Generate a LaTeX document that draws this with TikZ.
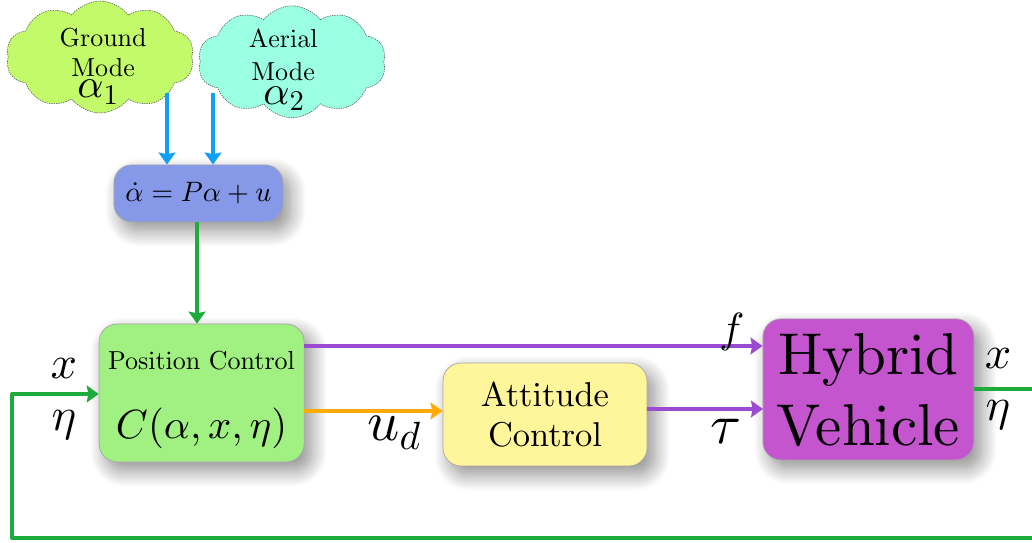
\RequirePackage{fix-cm}
\documentclass[tikz,border=0pt]{standalone}
\usepackage{amsmath,amssymb}
\usepackage[OT1]{fontenc}
\usepackage{xcolor}
\usetikzlibrary{arrows.meta,shapes.symbols,shadows.blur}
\renewcommand{\rmdefault}{cmr}
\DeclareFontShape{OT1}{cmr}{m}{n}{<->cmr10}{}
\DeclareFontShape{OML}{cmm}{m}{it}{<->cmmi10}{}
\definecolor{softrate}{RGB}{133,153,232}
\definecolor{softpos}{RGB}{160,240,130}
\definecolor{softatt}{RGB}{255,245,155}
\definecolor{softhyb}{RGB}{197,85,207}
\definecolor{softground}{RGB}{195,250,105}
\definecolor{softaerial}{RGB}{155,255,225}
\definecolor{linkblue}{RGB}{16,160,245}
\definecolor{linkgreen}{RGB}{30,170,60}
\definecolor{linkpurple}{RGB}{155,75,210}
\definecolor{linkorange}{RGB}{255,170,0}
\tikzset{
    blockbox/.style={draw=black!35, line width=0.5pt, rounded corners=0.45cm, align=center, inner sep=0pt,
        blur shadow={shadow xshift=0.18cm, shadow yshift=-0.22cm, shadow blur radius=0.4cm, shadow blur steps=16, shadow opacity=45}},
    modecloud/.style={cloud, cloud puffs=10, cloud puff arc=105, aspect=1.7, draw=black!65, dash pattern=on 1pt off 0.7pt, line width=0.4pt, inner sep=0pt},
    link/.style={-{Stealth[length=0.3cm,width=0.42cm,inset=0.04cm]}, line width=2.4pt, line join=round},
    plainlink/.style={line width=2.4pt, line join=round}
}
\begin{document}
\begin{tikzpicture}
    \useasboundingbox (0,0) rectangle (25.8,13.575);

    % Mode clouds
    \node[modecloud, fill=softground, minimum width=4.7cm, minimum height=2.8cm] (ground) at (2.5,12.15) {};
    \node[modecloud, fill=softaerial, minimum width=4.7cm, minimum height=2.8cm] (aerial) at (7.3,12.03) {};
    \node[font=\fontsize{18.5}{22}\selectfont] (groundtext) at (2.58,12.65) {Ground};
    \node[font=\fontsize{18.5}{22}\selectfont] (groundmode) at (2.58,11.9) {Mode};
    \node[font=\fontsize{29}{32}\selectfont] (groundalpha) at (2.45,11.27) {$\alpha_1$};
    \node[font=\fontsize{18.5}{22}\selectfont] (aerialtext) at (7.08,12.62) {Aerial};
    \node[font=\fontsize{18.5}{22}\selectfont] (aerialmode) at (7.08,11.8) {Mode};
    \node[font=\fontsize{29}{32}\selectfont] (aerialalpha) at (7.1,11.1) {$\alpha_2$};

    % Blocks
    \node[blockbox, fill=softrate, minimum width=4.225cm, minimum height=1.425cm, font=\fontsize{20}{24}\selectfont] (rate) at (4.96,8.74)
        {$\dot{\alpha} = P\alpha + u$};
    \node[blockbox, fill=softpos, minimum width=5.125cm, minimum height=3.45cm, font=\fontsize{18.5}{21}\selectfont] (pos) at (5.04,3.75)
        {\rule{0pt}{0.8cm}Position Control\\[0.92cm]\fontsize{29}{34}\selectfont $C(\alpha,x,\eta)$};
    \node[blockbox, fill=softatt, minimum width=5.1cm, minimum height=2.575cm, font=\fontsize{24.5}{28}\selectfont] (att) at (13.625,3.2125)
        {Attitude\\Control};
    \node[blockbox, fill=softhyb, minimum width=5.275cm, minimum height=3.525cm, font=\fontsize{42}{50}\selectfont] (hyb) at (21.71,3.84)
        {Hybrid\\Vehicle};

    % Free ends of the connectors
    \coordinate (groundout) at (4.175,11.25);
    \coordinate (aerialout) at (5.325,11.25);
    \coordinate (ratedown) at (4.925,5.5);
    \coordinate (posf) at (7.6,4.925);
    \coordinate (posu) at (7.6,3.3);
    \coordinate (hybt) at (19.075,3.35);
    \coordinate (feedout) at (25.8,3.85);
    \coordinate (feedback) at (25.8,0.125);
    \coordinate (feedcorner) at (0.3,0.125);
    \coordinate (feedin) at (0.3,3.725);

    % Connectors
    \draw[link, linkblue] (groundout) -- (groundout |- rate.north);
    \draw[link, linkblue] (aerialout) -- (aerialout |- rate.north);
    \draw[link, linkgreen] (ratedown |- rate.south) -- (ratedown |- pos.north);
    \draw[link, linkpurple] (posf) -- (posf -| hyb.west);
    \draw[link, linkorange] (posu) -- (posu -| att.west);
    \draw[link, linkpurple] (hybt -| att.east) -- (hybt);
    \draw[plainlink, linkgreen] (hyb.east |- feedout) -- (feedout);
    \draw[link, linkgreen] (feedback) -- (feedcorner) -- (feedin) -- (feedin -| pos.west);

    % Signal labels
    \node[font=\fontsize{33}{38}\selectfont] (xin) at (1.6,4.35) {$x$};
    \node[font=\fontsize{33}{38}\selectfont] (etain) at (1.6,2.95) {$\eta$};
    \node[font=\fontsize{40}{44}\selectfont] (ud) at (9.85,2.75) {$u_d$};
    \node[font=\fontsize{30}{34}\selectfont] (fsig) at (18.3,5.28) {$f$};
    \node[font=\fontsize{40}{44}\selectfont] (tausig) at (18.15,2.8) {$\tau$};
    \node[font=\fontsize{33}{38}\selectfont] (xout) at (24.95,4.6) {$x$};
    \node[font=\fontsize{33}{38}\selectfont] (etaout) at (24.95,3.2) {$\eta$};
\end{tikzpicture}
\end{document}
